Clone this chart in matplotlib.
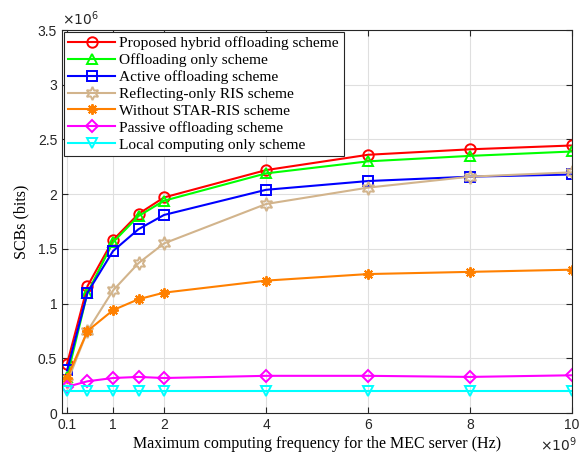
import numpy as np
import matplotlib
matplotlib.use("Agg")
import matplotlib.pyplot as plt

# x in units of 1e9 Hz, y in units of 1e6 bits
freq = [0.1, 0.5, 1, 1.5, 2, 4, 6, 8, 10]
proposed = [0.45, 1.16, 1.58, 1.82, 1.97, 2.22, 2.36, 2.41, 2.445]
offload_only = [0.33, 1.10, 1.56, 1.80, 1.94, 2.19, 2.30, 2.35, 2.39]
active = [0.39, 1.10, 1.48, 1.68, 1.81, 2.04, 2.12, 2.16, 2.18]
reflecting = [0.28, 0.75, 1.12, 1.37, 1.55, 1.91, 2.06, 2.16, 2.20]
no_star = [0.32, 0.75, 0.94, 1.04, 1.10, 1.21, 1.27, 1.29, 1.31]
passive = [0.24, 0.29, 0.32, 0.33, 0.32, 0.34, 0.34, 0.33, 0.345]
local = [0.20, 0.20, 0.20, 0.20, 0.20, 0.20, 0.20, 0.20, 0.20]

labels = ["Proposed hybrid offloading scheme", "Offloading only scheme",
          "Active offloading scheme", "Reflecting-only RIS scheme",
          "Without STAR-RIS scheme", "Passive offloading scheme",
          "Local computing only scheme"]
series = [proposed, offload_only, active, reflecting, no_star, passive, local]
colors = ["#FF0000", "#00FF00", "#0000FF", "#D2B48C", "#FF8000", "#FF00FF", "#00FFFF"]
markers = ["o", "^", "s", (6, 1, 0), (8, 2, 0), "D", "v"]
msizes = [7.5, 7.5, 6.5, 9.5, 7.5, 6.5, 7.5]

fig = plt.figure(figsize=(5.81, 4.62), dpi=100)
ax = fig.add_axes([0.1067, 0.106, 0.878, 0.829])

for ys, lab, c, m, ms in zip(series, labels, colors, markers, msizes):
    ax.plot(freq, ys, color=c, marker=m, markersize=ms, markerfacecolor="none",
            markeredgecolor=c, markeredgewidth=1.4, linewidth=1.5, label=lab)

ax.set_xlim(0, 10)
ax.set_ylim(0, 3.5)
ax.set_xticks([0.1, 1, 2, 4, 6, 8, 10])
ax.set_xticklabels(["0.1", "1", "2", "4", "6", "8", "10"])
ax.set_yticks(np.arange(0, 3.51, 0.5))
ax.set_yticklabels(["0", "0.5", "1", "1.5", "2", "2.5", "3", "3.5"])
ax.grid(True, color="#DFDFDF", linewidth=0.8)
ax.set_axisbelow(True)
ax.tick_params(direction="in", top=True, right=True, length=4, colors="#262626",
               labelsize=10, labelcolor="#262626")
for lbl in ax.get_xticklabels() + ax.get_yticklabels():
    lbl.set_fontfamily("Liberation Sans")
for s in ax.spines.values():
    s.set_color("#262626")
    s.set_linewidth(0.8)

ax.set_xlabel("Maximum computing frequency for the MEC server (Hz)",
              fontfamily="Liberation Serif", fontsize=11.5, labelpad=3)
ax.set_ylabel("SCBs (bits)", fontfamily="Liberation Serif", fontsize=11.5, labelpad=6)

ax.text(0.0, 1.005, r"$\times 10^6$", transform=ax.transAxes, fontsize=10,
        fontfamily="Liberation Sans", ha="left", va="bottom", color="#262626")
fig.text(0.929, 0.018, r"$\times 10^9$", fontsize=10,
         fontfamily="Liberation Sans", ha="left", va="bottom", color="#262626")

leg = ax.legend(loc="upper left", bbox_to_anchor=(0.0, 1.0), handlelength=3.0,
                fancybox=False, edgecolor="#262626", framealpha=1,
                prop={"family": "Liberation Serif", "size": 11.1},
                labelspacing=0.2, borderpad=0.3, handletextpad=0.3,
                borderaxespad=0.12)
leg.get_frame().set_linewidth(0.8)

fig.savefig("out.png", dpi=100)
